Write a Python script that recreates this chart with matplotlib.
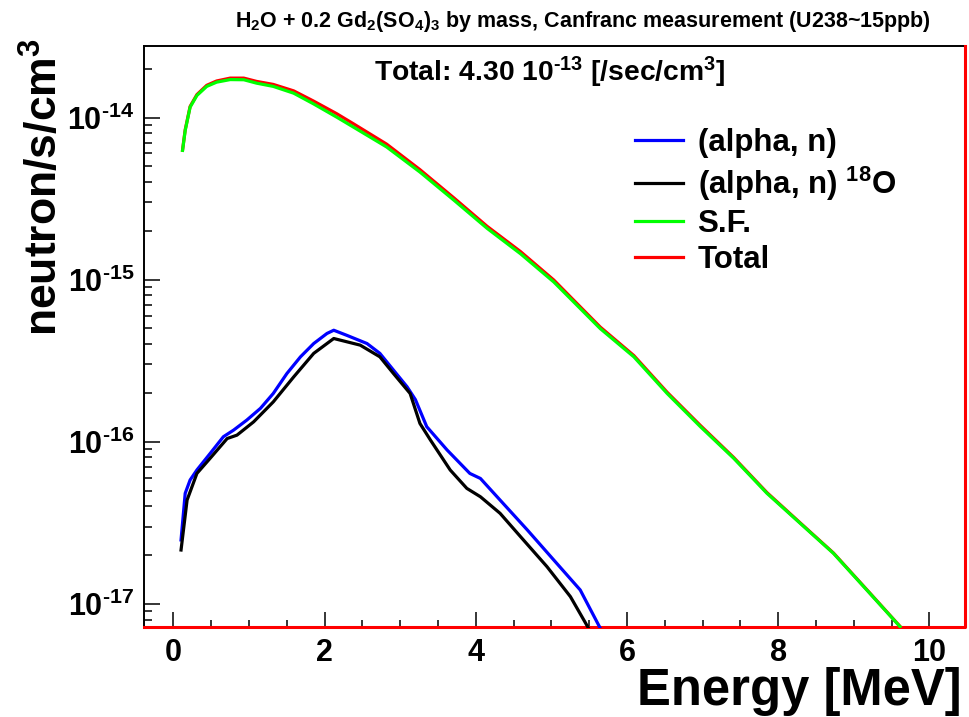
import matplotlib
matplotlib.use('Agg')
import matplotlib.pyplot as plt
from matplotlib.ticker import LogLocator, MultipleLocator, NullFormatter, FixedFormatter, FixedLocator

plt.rcParams['font.family'] = ['Liberation Sans', 'DejaVu Sans']
plt.rcParams['font.weight'] = 'bold'
plt.rcParams['mathtext.fontset'] = 'custom'
plt.rcParams['mathtext.rm'] = 'Liberation Sans:bold'
plt.rcParams['mathtext.it'] = 'Liberation Sans:bold'
plt.rcParams['mathtext.bf'] = 'Liberation Sans:bold'
plt.rcParams['mathtext.default'] = 'rm'

# spontaneous fission spectrum (green) and total (red), neutron/s/cm3
sf_energy = [0.12, 0.155, 0.22, 0.31, 0.44, 0.57, 0.75, 0.93, 1.10, 1.32, 1.59,
             1.85, 2.16, 2.38, 2.82, 3.26, 3.71, 4.15, 4.59, 5.03, 5.25, 5.645,
             6.09, 6.53, 6.97, 7.41, 7.85, 8.29, 8.73, 9.17, 9.61]
sf_flux = [6.27e-15, 8.32e-15, 1.159e-14, 1.368e-14, 1.556e-14, 1.652e-14, 1.714e-14,
           1.710e-14, 1.629e-14, 1.556e-14, 1.413e-14, 1.216e-14, 1.005e-14, 8.73e-15,
           6.58e-15, 4.61e-15, 3.09e-15, 2.07e-15, 1.445e-15, 9.68e-16, 7.64e-16, 4.99e-16,
           3.34e-16, 1.986e-16, 1.239e-16, 7.91e-17, 4.81e-17, 3.14e-17, 2.05e-17,
           1.219e-17, 7.24e-18]
total_flux = [6.3e-15, 8.4e-15, 1.17e-14, 1.385e-14, 1.58e-14, 1.68e-14, 1.75e-14,
              1.75e-14, 1.67e-14, 1.60e-14, 1.46e-14, 1.265e-14, 1.055e-14, 9.15e-15,
              6.85e-15, 4.77e-15, 3.19e-15, 2.13e-15, 1.49e-15, 9.95e-16, 7.83e-16, 5.1e-16,
              3.4e-16, 2.02e-16, 1.26e-16, 8.0e-17, 4.86e-17, 3.16e-17, 2.06e-17,
              1.225e-17, 7.27e-18]

# (alpha, n) spectrum (blue)
an_energy = [0.1, 0.155, 0.22, 0.31, 0.485, 0.66, 0.795, 0.97, 1.15, 1.32, 1.5, 1.68,
             1.855, 2.03, 2.12, 2.29, 2.56, 2.73, 2.91, 3.09, 3.2, 3.35, 3.62, 3.92,
             4.06, 4.32, 4.68, 5.03, 5.38, 5.645]
an_flux = [2.48e-17, 4.81e-17, 5.81e-17, 6.70e-17, 8.47e-17, 1.074e-16, 1.180e-16,
           1.361e-16, 1.607e-16, 1.986e-16, 2.636e-16, 3.342e-16, 4.036e-16, 4.656e-16,
           4.875e-16, 4.54e-16, 4.036e-16, 3.51e-16, 2.767e-16, 2.183e-16, 1.82e-16,
           1.239e-16, 8.89e-17, 6.38e-17, 5.94e-17, 4.37e-17, 2.86e-17, 1.866e-17,
           1.219e-17, 7.08e-18]

# (alpha, n) on 18O (black)
o18_energy = [0.1, 0.18, 0.31, 0.485, 0.71, 0.84, 1.06, 1.32, 1.59, 1.855, 2.12, 2.47,
              2.73, 2.91, 3.13, 3.26, 3.4, 3.66, 3.88, 4.06, 4.32, 4.59, 4.94, 5.25, 5.49]
o18_flux = [2.15e-17, 4.37e-17, 6.38e-17, 7.91e-17, 1.047e-16, 1.099e-16, 1.327e-16,
            1.762e-16, 2.512e-16, 3.51e-16, 4.335e-16, 3.945e-16, 3.342e-16, 2.636e-16,
            1.986e-16, 1.297e-16, 1.023e-16, 6.70e-17, 5.16e-17, 4.58e-17, 3.62e-17,
            2.60e-17, 1.698e-17, 1.109e-17, 7.08e-18]

x_ticks = [0, 2, 4, 6, 8, 10]
y_ticks = [1e-17, 1e-16, 1e-15, 1e-14]
y_tick_labels = ['$10^{\u201017}$', '$10^{\u201016}$', '$10^{\u201015}$', '$10^{\u201014}$']

fig = plt.figure(figsize=(9.69, 7.17), dpi=100)
ax = fig.add_axes([0.1486, 0.1241, 0.8473, 0.8124])

lw = 2.3
ax.plot(sf_energy, total_flux, color='#ff0000', lw=lw, label='Total', zorder=3)
ax.plot(an_energy, an_flux, color='#0000ff', lw=lw, label='(alpha, n)', zorder=4)
ax.plot(o18_energy, o18_flux, color='black', lw=lw, label='(alpha, n) $^{18}$O', zorder=5)
ax.plot(sf_energy, sf_flux, color='#00ff00', lw=lw, label='S.F.', zorder=6)

# red histogram edge along bottom and right of the frame
ax.plot([0, 1, 1], [0.001, 0.001, 1], transform=ax.transAxes, color='#ff0000',
        lw=2.2, clip_on=False, zorder=2)

ax.set_yscale('log')
ax.set_xlim(-0.39, 10.47)
ax.set_ylim(7.1e-18, 2.78e-14)

ax.xaxis.set_major_locator(FixedLocator(x_ticks))
ax.xaxis.set_minor_locator(MultipleLocator(0.5))
ax.yaxis.set_major_locator(FixedLocator(y_ticks))
ax.yaxis.set_major_formatter(FixedFormatter(y_tick_labels))
ax.yaxis.set_minor_locator(LogLocator(base=10, subs=range(2, 10)))
ax.yaxis.set_minor_formatter(NullFormatter())

ax.tick_params(which='both', direction='in', top=False, right=False, width=1.1, color='black')
ax.tick_params(which='major', length=11.5, labelsize=22, pad=7)
ax.tick_params(which='minor', length=5.5)
for s in ax.spines.values():
    s.set_linewidth(1.4)
    s.set_zorder(1)

handles, labels = ax.get_legend_handles_labels()
order = [1, 2, 3, 0]
ax.legend([handles[i] for i in order], [labels[i] for i in order],
          loc='upper left', bbox_to_anchor=(635 / 969, 1 - 128 / 717),
          bbox_transform=fig.transFigure, frameon=False, fontsize=22.5,
          handlelength=1.55, handletextpad=0.45, labelspacing=0.2,
          borderpad=0, borderaxespad=0)

fig.text(583 / 969, 1 - 22 / 717,
         'H$_2$O + 0.2 Gd$_2$(SO$_4$)$_3$ by mass, Canfranc measurement (U238~15ppb)',
         ha='center', va='center', fontsize=15.5)
fig.text(550 / 969, 1 - 72 / 717, 'Total: 4.30 10$^{\u201013}$ [/sec/cm$^3$]',
         ha='center', va='center', fontsize=20.3)
fig.text(45 / 969, 1 - 38 / 717, 'neutron/s/cm$^3$', rotation=90,
         ha='center', va='top', fontsize=32)
fig.text(962 / 969, 1 - 705 / 717, 'Energy [MeV]', ha='right', va='baseline', fontsize=36.5)

fig.savefig('out.png', dpi=100)
